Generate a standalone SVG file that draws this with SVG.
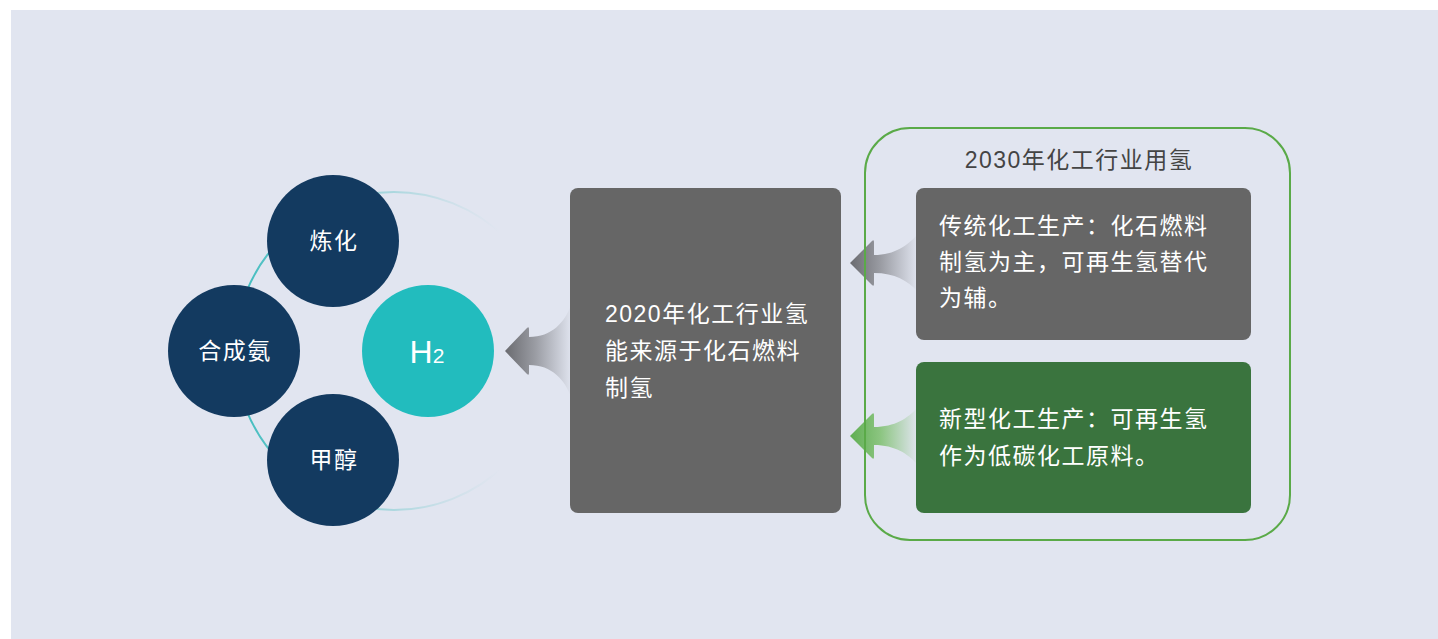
<svg xmlns="http://www.w3.org/2000/svg" width="1438" height="639" viewBox="0 0 1438 639">
<style>
.t{font-family:"Liberation Sans","Noto Sans CJK SC",sans-serif;fill:#ffffff;font-size:23px;letter-spacing:1.5px}
.c{font-family:"Liberation Sans","Noto Sans CJK SC",sans-serif;fill:#ffffff;font-size:23px;letter-spacing:1.5px;text-anchor:middle}
.navy{fill:#133a60}
.gbox{fill:#666666}
</style>
<defs>
<linearGradient id="ring" gradientUnits="userSpaceOnUse" x1="240" y1="0" x2="500" y2="0">
<stop offset="0" stop-color="#3fbcbe" stop-opacity="1"/>
<stop offset="0.5" stop-color="#6cc7ca" stop-opacity="0.6"/>
<stop offset="1" stop-color="#9fd6d9" stop-opacity="0"/>
</linearGradient>
<linearGradient id="ga1" gradientUnits="userSpaceOnUse" x1="505" y1="0" x2="572" y2="0">
<stop offset="0" stop-color="#6a6b70"/>
<stop offset="0.45" stop-color="#9a9ca3"/>
<stop offset="1" stop-color="#e1e5f0"/>
</linearGradient>
<linearGradient id="ga2" gradientUnits="userSpaceOnUse" x1="850" y1="0" x2="918" y2="0">
<stop offset="0" stop-color="#6a6b70"/>
<stop offset="0.45" stop-color="#9a9ca3"/>
<stop offset="1" stop-color="#e1e5f0"/>
</linearGradient>
<linearGradient id="ga3" gradientUnits="userSpaceOnUse" x1="850" y1="0" x2="918" y2="0">
<stop offset="0" stop-color="#5fae52"/>
<stop offset="0.45" stop-color="#8cc581"/>
<stop offset="1" stop-color="#e1e5f0"/>
</linearGradient>
</defs>
<rect x="0" y="0" width="1438" height="639" fill="#ffffff"/>
<rect x="11" y="10" width="1427" height="629" fill="#e1e5f0"/>

<g id="ring-group">
<circle cx="394" cy="351" r="159" fill="none" stroke="url(#ring)" stroke-width="2"/>
</g>

<g id="connectors">
<path d="M505,351 L527,328 Q529,326 529,329 L529,337 C552,337 565,322 571,305 L571,397 C565,380 552,365 529,365 L529,373 Q529,376 527,374 Z" fill="url(#ga1)"/>
<path d="M850,263 L872,241 Q874,239 874,242 L874,255 C895,255 908,245 917,235 L917,291 C908,281 895,273 874,273 L874,284 Q874,287 872,285 Z" fill="url(#ga2)"/>
<path d="M850,436 L872,414 Q874,412 874,415 L874,427 C895,427 908,418 917,408 L917,464 C908,454 895,445 874,445 L874,457 Q874,460 872,458 Z" fill="url(#ga3)"/>
</g>

<g id="node-lianhua">
<circle class="navy" cx="333" cy="241" r="66"/>
<text class="c" x="334" y="249">炼化</text>
</g>
<g id="node-hechengan">
<circle class="navy" cx="234" cy="351" r="66"/>
<text class="c" x="235" y="359">合成氨</text>
</g>
<g id="node-h2">
<circle cx="428" cy="351" r="66" fill="#22bcbe"/>
<text x="427" y="363" font-family="Liberation Sans, sans-serif" fill="#ffffff" font-size="32" text-anchor="middle">H<tspan font-size="21">2</tspan></text>
</g>
<g id="node-jiachun">
<circle class="navy" cx="333" cy="460" r="66"/>
<text class="c" x="334" y="468">甲醇</text>
</g>

<g id="node-2020">
<rect class="gbox" x="570" y="188" width="271" height="325" rx="8"/>
<text class="t" x="605" y="322">2020年化工行业氢</text>
<text class="t" x="605" y="359">能来源于化石燃料</text>
<text class="t" x="605" y="396">制氢</text>
</g>

<g id="node-2030">
<rect x="865" y="128" width="425" height="412" rx="45" fill="none" stroke="#5aaa48" stroke-width="2"/>
<text x="1079" y="168" font-family="Liberation Sans, Noto Sans CJK SC, sans-serif" font-size="23" fill="#444444" text-anchor="middle" letter-spacing="1.5">2030年化工行业用氢</text>
</g>

<g id="node-traditional">
<rect class="gbox" x="916" y="188" width="335" height="152" rx="8"/>
<text class="t" x="939" y="234">传统化工生产：化石燃料</text>
<text class="t" x="939" y="270">制氢为主，可再生氢替代</text>
<text class="t" x="939" y="306">为辅。</text>
</g>

<g id="node-new">
<rect x="916" y="362" width="335" height="151" rx="8" fill="#3a743e"/>
<text class="t" x="939" y="427">新型化工生产：可再生氢</text>
<text class="t" x="939" y="464">作为低碳化工原料。</text>
</g>
</svg>
